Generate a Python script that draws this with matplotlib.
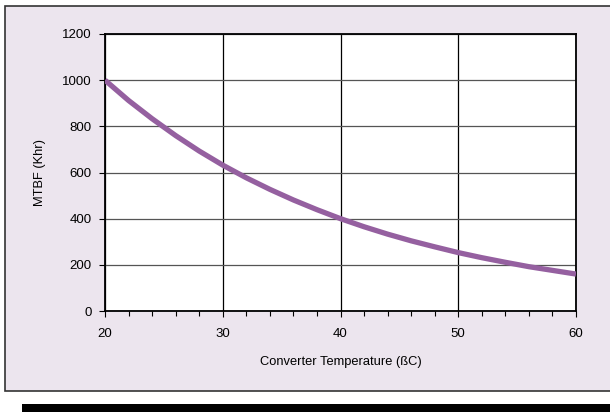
import matplotlib
matplotlib.use("Agg")
import matplotlib.pyplot as plt
from matplotlib.patches import Rectangle
from matplotlib.ticker import MultipleLocator

temperature = [20, 22, 24, 26, 28, 30, 32, 34, 36, 38, 40, 42, 44, 46, 48, 50, 52, 54, 56, 58, 60]
mtbf_khr = [1000, 912, 833, 760, 693, 632, 577, 527, 481, 439, 400, 365, 333, 304, 278, 253, 231, 211, 192, 176, 160]
x_ticks = [20, 30, 40, 50, 60]
y_ticks = [0, 200, 400, 600, 800, 1000, 1200]

plt.rcParams['font.family'] = ['Liberation Sans', 'DejaVu Sans']

W, H = 610, 412
fig = plt.figure(figsize=(W / 100, H / 100), dpi=100)
fig.patch.set_facecolor('white')

# outer panel
fig.patches.append(Rectangle((5 / W, 1 - 391 / H), 620 / W, 385 / H, transform=fig.transFigure,
                             facecolor='#ECE5EE', edgecolor='#333333', linewidth=1.2, zorder=-2))
# black bar at bottom
fig.patches.append(Rectangle((22 / W, 0), 1, 8.5 / H, transform=fig.transFigure,
                             facecolor='black', edgecolor='none', zorder=-2))

ax = fig.add_axes([105 / W, 1 - 311 / H, 471 / W, 277 / H])
ax.set_zorder(2)
ax.set_facecolor('white')
ax.plot(temperature, mtbf_khr, color='#9560A0', linewidth=3.8, solid_capstyle='butt', zorder=3)

ax.set_xlim(20, 60)
ax.set_ylim(0, 1200)
ax.set_xticks(x_ticks)
ax.set_yticks(y_ticks)
ax.xaxis.set_minor_locator(MultipleLocator(2))
ax.grid(True, axis='x', which='major', color='black', linewidth=0.9, zorder=1)
ax.grid(True, axis='y', which='major', color='#555555', linewidth=0.9, zorder=1)
for s in ax.spines.values():
    s.set_linewidth(1.3)
    s.set_color('black')
ax.tick_params(axis='both', which='major', direction='out', length=4.5, width=0.8, labelsize=9.5, colors='black')
ax.tick_params(axis='x', which='minor', direction='out', length=3.5, width=0.8)
ax.tick_params(axis='x', which='major', pad=8)
ax.tick_params(axis='y', which='major', pad=5)
ax.set_xlabel('Converter Temperature (ßC)', fontsize=9.3, labelpad=11)
ax.set_ylabel('MTBF (Khr)', fontsize=9.3, labelpad=12)

fig.savefig('out.png', dpi=100, facecolor=fig.get_facecolor())
